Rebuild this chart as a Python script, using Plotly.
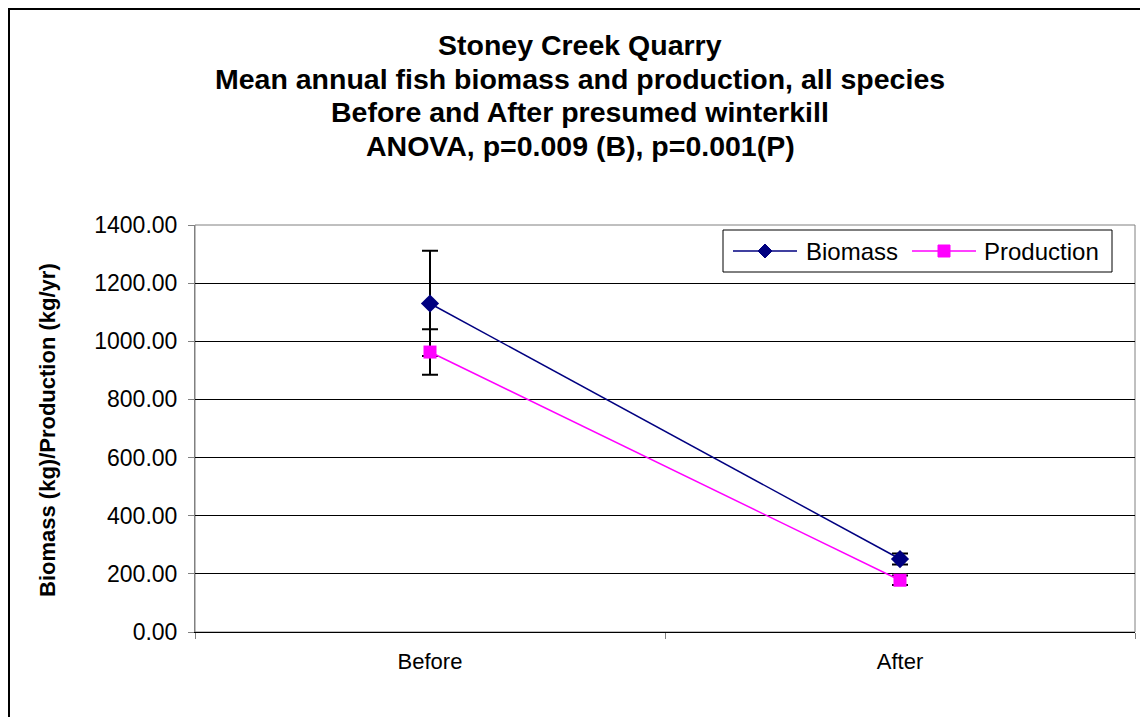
import plotly.graph_objects as go

categories = ["Before", "After"]
biomass = [1130, 251]
biomass_err = [181, 19]
production = [963, 178]
production_err = [78, 16]

series_names = ["Biomass", "Production"]

title_lines = [
    "Stoney Creek Quarry",
    "Mean annual fish biomass and production, all species",
    "Before and After presumed winterkill",
    "ANOVA, p=0.009 (B), p=0.001(P)",
]
title_y_px = [45, 79, 112, 146]

# page body has an 8px margin, so the figure is 8px smaller than the window
W, H = 1140, 709
L, R, T, B = 187, 13, 217, 85
PW, PH = W - L - R, H - T - B
OFF = 8

def px_x(x):  # reference screen pixel -> paper
    return (x - OFF - L) / PW

def px_y(y):
    return (H - B - (y - OFF)) / PH

NAVY = "#000080"
MAG = "#FF00FF"
font_family = "Liberation Sans, Arial, sans-serif"

fig = go.Figure()
fig.add_trace(go.Scatter(
    x=categories, y=biomass, name=series_names[0], mode="lines+markers",
    line=dict(color=NAVY, width=1.5),
    marker=dict(symbol="diamond", size=14, color=NAVY),
    error_y=dict(type="data", array=biomass_err, color="black", thickness=2, width=8),
    showlegend=False,
))
fig.add_trace(go.Scatter(
    x=categories, y=production, name=series_names[1], mode="lines+markers",
    line=dict(color=MAG, width=1.5),
    marker=dict(symbol="square", size=13, color=MAG),
    error_y=dict(type="data", array=production_err, color="black", thickness=2, width=8),
    showlegend=False,
))

annotations = []
for line, yp in zip(title_lines, title_y_px):
    annotations.append(dict(
        text="<b>" + line + "</b>", xref="paper", yref="paper",
        x=px_x(580), y=px_y(yp), xanchor="center", yanchor="middle",
        showarrow=False,
        font=dict(family=font_family, size=28.5, color="black"),
    ))
# y-axis title
annotations.append(dict(
    text="<b>Biomass (kg)/Production (kg/yr)</b>", xref="paper", yref="paper",
    x=px_x(47), y=px_y(430), xanchor="center", yanchor="middle", textangle=-90,
    showarrow=False, font=dict(family=font_family, size=22, color="black"),
))

# manual legend (Excel style, long line samples)
leg_y = 251
annotations.append(dict(text=series_names[0], xref="paper", yref="paper",
                        x=px_x(804), y=px_y(leg_y), xanchor="left", yanchor="middle",
                        showarrow=False, font=dict(family=font_family, size=24, color="black")))
annotations.append(dict(text=series_names[1], xref="paper", yref="paper",
                        x=px_x(982), y=px_y(leg_y), xanchor="left", yanchor="middle",
                        showarrow=False, font=dict(family=font_family, size=24, color="black")))

def diamond(cx, cy, r):
    return (f"M {px_x(cx - r)},{px_y(cy)} L {px_x(cx)},{px_y(cy - r)} "
            f"L {px_x(cx + r)},{px_y(cy)} L {px_x(cx)},{px_y(cy + r)} Z")

shapes = [
    dict(type="rect", xref="paper", yref="paper", x0=0, x1=1, y0=0, y1=1,
         line=dict(color="#808080", width=1), layer="below"),
    dict(type="rect", xref="paper", yref="paper", x0=px_x(9), x1=1.5, y0=-1, y1=px_y(9),
         line=dict(color="black", width=2), layer="below"),
    dict(type="rect", xref="paper", yref="paper", x0=px_x(723), x1=px_x(1112),
         y0=px_y(272), y1=px_y(230), line=dict(color="black", width=1),
         fillcolor="white", layer="above"),
    dict(type="line", xref="paper", yref="paper", x0=px_x(733), x1=px_x(797),
         y0=px_y(leg_y), y1=px_y(leg_y), line=dict(color=NAVY, width=1.5), layer="above"),
    dict(type="path", xref="paper", yref="paper", path=diamond(765, leg_y, 7),
         fillcolor=NAVY, line=dict(color=NAVY, width=1), layer="above"),
    dict(type="line", xref="paper", yref="paper", x0=px_x(912), x1=px_x(976),
         y0=px_y(leg_y), y1=px_y(leg_y), line=dict(color=MAG, width=1.5), layer="above"),
    dict(type="rect", xref="paper", yref="paper", x0=px_x(938), x1=px_x(950),
         y0=px_y(leg_y + 6), y1=px_y(leg_y - 6),
         fillcolor=MAG, line=dict(color=MAG, width=1), layer="above"),
]

fig.update_layout(
    width=W, height=H,
    margin=dict(l=L, r=R, t=T, b=B, pad=0),
    paper_bgcolor="white", plot_bgcolor="white",
    font=dict(family=font_family, size=22, color="black"),
    showlegend=False,
    annotations=annotations,
    shapes=shapes,
)

fig.update_xaxes(
    type="category", range=[-0.5, 1.5], tickson="boundaries",
    ticks="outside", ticklen=6, tickcolor="#808080",
    showline=True, linecolor="black", linewidth=1,
    showgrid=False, zeroline=False,
    tickfont=dict(size=22), ticklabelstandoff=10,
)
fig.update_yaxes(
    range=[0, 1400], dtick=200, tickformat=".2f",
    ticks="outside", ticklen=6, tickcolor="#808080",
    showline=True, linecolor="#808080", linewidth=1,
    showgrid=True, gridcolor="black", gridwidth=1,
    zeroline=False,
    tickfont=dict(size=23), ticklabelstandoff=6,
)

fig.write_html("out.html")
